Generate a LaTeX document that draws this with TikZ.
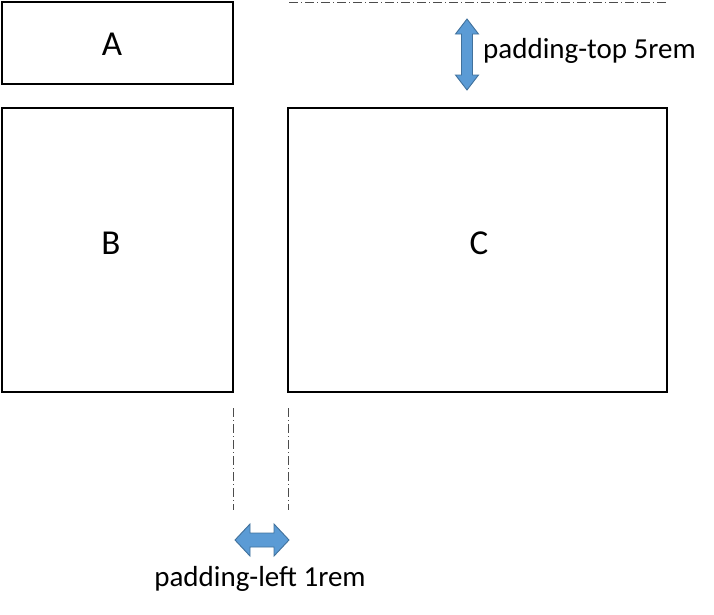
\documentclass[tikz,border=0pt]{standalone}
\usepackage{fontspec}
\setmainfont{Carlito}
\usetikzlibrary{shapes.arrows}
\definecolor{arrfill}{HTML}{5B9BD5}
\definecolor{arredge}{HTML}{41719C}
\begin{document}
\begin{tikzpicture}[x=1pt,y=-1pt,
  box/.style={draw=black,line width=1.6pt},
  guide/.style={draw=black!70,line width=0.7pt,dash pattern=on 9pt off 3pt on 1pt off 3pt},
  lbl/.style={font=\fontsize{35}{40}\selectfont},
  plbl/.style={font=\fontsize{29}{33}\selectfont,inner sep=0pt},
  darrow/.style={fill=arrfill,draw=arredge,line width=0.9pt}]
\useasboundingbox (0,0) rectangle (714,614);
\draw[box] (2,2) rectangle (233,84);
\draw[box] (2,108) rectangle (233,392);
\draw[box] (288,108) rectangle (667,392);
\node[lbl] (A) at (112,44) {A};
\node[lbl] (B) at (111,243) {B};
\node[lbl] (C) at (479,243) {C};
\coordinate (t1) at (289,2);
\coordinate (t2) at (667,2);
\draw[guide] (t1) -- (t2);
\coordinate (l1) at (233,408);
\coordinate (l2) at (233,510);
\coordinate (r1) at (288,408);
\coordinate (r2) at (288,510);
\draw[guide] (l1) -- (l2);
\draw[guide] (r1) -- (r2);
% vertical double arrow
\draw[darrow] (467,19) -- (478.5,34) -- (472.5,34) -- (472.5,75) -- (478.5,75) -- (467,90) -- (455.5,75) -- (461.5,75) -- (461.5,34) -- (455.5,34) -- cycle;
% horizontal double arrow
\draw[darrow] (235,540) -- (250,524) -- (250,533) -- (274,533) -- (274,524) -- (289,540) -- (274,556) -- (274,547) -- (250,547) -- (250,556) -- cycle;
\node[plbl,anchor=west] (pt) at (483,51) {padding-top 5rem};
\node[plbl] (pl) at (260,579) {padding-left 1rem};
\end{tikzpicture}
\end{document}
